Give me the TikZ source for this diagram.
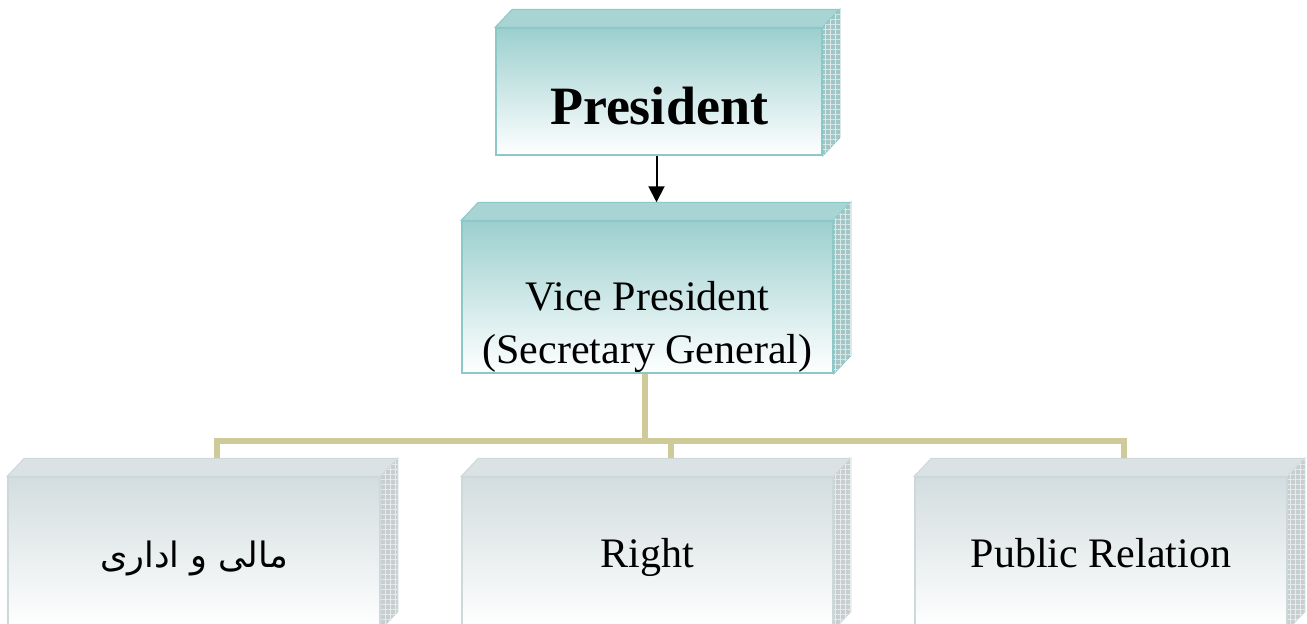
\documentclass[tikz,border=0pt]{standalone}
\usepackage{fontspec}
\setmainfont{Liberation Serif}
\newfontfamily\arabicfont[Script=Arabic]{DejaVu Sans}
\TeXXeTstate=1
\usetikzlibrary{arrows.meta,backgrounds,patterns.meta}

\definecolor{tealtop}{HTML}{9CCFCF}
\definecolor{tealedge}{HTML}{8CC8C8}
\definecolor{tealcap}{HTML}{A8D4D4}
\definecolor{tealside}{HTML}{A2C6C6}
\definecolor{greytop}{HTML}{D3DDDF}
\definecolor{greyedge}{HTML}{CDD8DA}
\definecolor{greycap}{HTML}{DAE2E4}
\definecolor{greyside}{HTML}{C6CECF}
\definecolor{khaki}{HTML}{CFCB99}

\tikzset{
  boxfront/.style={draw=#1edge, line width=1.5pt, top color=#1top, bottom color=white,
    inner sep=0pt, minimum height=152pt, font=\fontsize{42}{53}\selectfont},
  link/.style={draw=khaki, line width=6pt},
}

\begin{document}
\begin{tikzpicture}[x=1pt,y=-1pt]
\useasboundingbox (0,0) rectangle (1307,624);
\clip (0,0) rectangle (1307,624);

% front faces
\node[boxfront=teal, minimum width=326pt, minimum height=127pt,
  font=\bfseries\fontsize{54}{60}\selectfont, text height=65pt, text depth=0pt] (pres) at (659,91.5) {President};
\node[boxfront=teal, minimum width=371pt, align=center, text height=132pt, text depth=0pt] (vp) at (647.5,297)
  {Vice President\\(Secretary General)};
\node[boxfront=grey, minimum width=372pt, text height=28pt, text depth=0pt] (fin) at (194,553)
  {\arabicfont\fontsize{35}{42}\selectfont\beginR مالی و اداری\endR};
\node[boxfront=grey, minimum width=371pt, text height=28pt, text depth=0pt] (right) at (647.5,553) {Right};
\node[boxfront=grey, minimum width=372pt, text height=28pt, text depth=0pt] (pr) at (1101,553) {Public Relation};

% top and side faces
\foreach \n/\capc/\sidec/\edgec in {pres/tealcap/tealside/tealedge,vp/tealcap/tealside/tealedge,
  fin/greycap/greyside/greyedge,right/greycap/greyside/greyedge,pr/greycap/greyside/greyedge}{
  \filldraw[fill=\capc, draw=\edgec, line width=1pt] (\n.north west) -- ++(17,-18)
    -- ([shift={(17,-18)}]\n.north east) -- (\n.north east) -- cycle;
  \filldraw[fill=\sidec, draw=\edgec, line width=1pt] (\n.north east) -- ++(17,-18)
    -- ([shift={(17,-18)}]\n.south east) -- (\n.south east) -- cycle;
  \path[pattern={Lines[distance=5pt,angle=0,line width=0.6pt]}, pattern color=white!60!\sidec]
    (\n.north east) -- ++(17,-18) -- ([shift={(17,-18)}]\n.south east) -- (\n.south east) -- cycle;
  \path[pattern={Lines[distance=5pt,angle=90,line width=0.6pt]}, pattern color=white!60!\sidec]
    (\n.north east) -- ++(17,-18) -- ([shift={(17,-18)}]\n.south east) -- (\n.south east) -- cycle;
}

% connectors
\coordinate (vptop) at ([yshift=18pt]vp.north);
\draw[line width=2pt, -{Triangle[width=16pt,length=16pt]}] ([xshift=-2.5pt]pres.south)
  -- ([xshift=-2.5pt]pres.south |- vptop);
\begin{scope}[on background layer]
\draw[link] ([xshift=-2.5pt]vp.south) -- ++(0,67) coordinate (bus);
\foreach \c in {fin,right,pr}
  \draw[link] (bus) -| ([xshift=23pt]\c.north);
\end{scope}
\end{tikzpicture}
\end{document}
